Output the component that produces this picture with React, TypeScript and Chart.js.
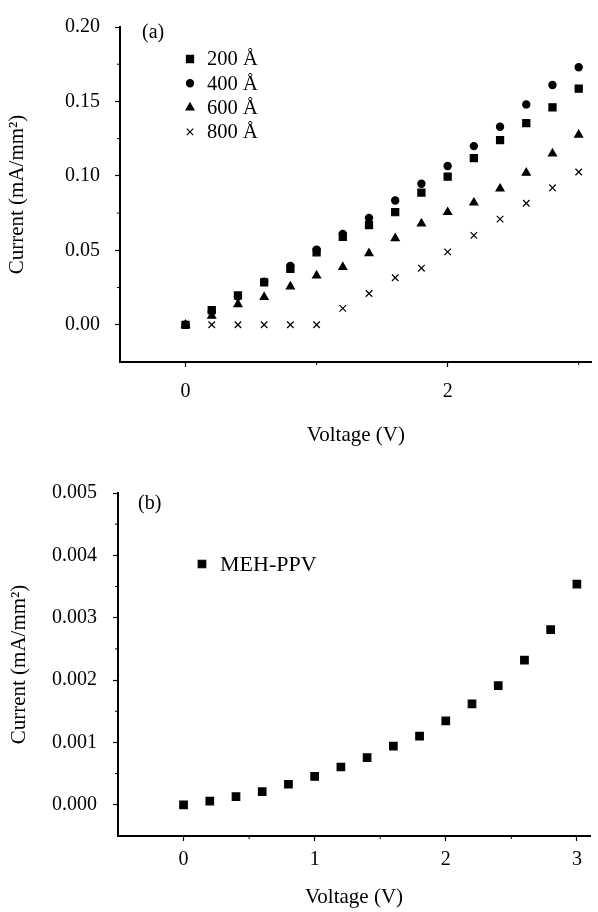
import React, { useEffect, useRef } from 'react';
import { Chart, registerables } from 'chart.js';
import { drawPoint } from 'chart.js/helpers';

Chart.register(...registerables);

const FONT = "'Liberation Serif', 'Times New Roman', serif";

// ---- data ----
const voltages = [0, 0.2, 0.4, 0.6, 0.8, 1.0, 1.2, 1.4, 1.6, 1.8, 2.0, 2.2, 2.4, 2.6, 2.8, 3.0];
const current200 = [0.0, 0.0099, 0.0197, 0.0285, 0.0375, 0.0487, 0.059, 0.067, 0.0756, 0.0888, 0.0995, 0.112, 0.124, 0.1355, 0.146, 0.1586];
const current400 = [0.0, 0.009, 0.019, 0.029, 0.0395, 0.0505, 0.061, 0.0717, 0.0835, 0.0947, 0.1066, 0.12, 0.133, 0.148, 0.161, 0.173];
const current600 = [0.0, 0.006, 0.0138, 0.0186, 0.0257, 0.033, 0.0387, 0.048, 0.058, 0.068, 0.0756, 0.082, 0.0914, 0.102, 0.115, 0.1276];
const current800 = [0.0, 0.0, 0.0, 0.0, 0.0, 0.0, 0.011, 0.021, 0.0316, 0.038, 0.049, 0.06, 0.071, 0.0816, 0.092, 0.1026];
const currentMehPpv = [0.0, 0.00006, 0.00013, 0.00021, 0.00033, 0.000455, 0.000606, 0.000756, 0.00094, 0.0011, 0.001345, 0.00162, 0.00191, 0.00232, 0.00281, 0.00354];

const seriesLabelsA = ['200 Å', '400 Å', '600 Å', '800 Å'];
const seriesLabelB = 'MEH-PPV';

// ---- ticks ----
const xTicksA = [0, 2];
const xMinorA = [1, 3];
const yTicksA = [0, 0.05, 0.1, 0.15, 0.2];
const yMinorA = [0.025, 0.075, 0.125, 0.175];
const xTicksB = [0, 1, 2, 3];
const xMinorB = [0.5, 1.5, 2.5];
const yTicksB = [0, 0.001, 0.002, 0.003, 0.004, 0.005];
const yMinorB = [0.0005, 0.0015, 0.0025, 0.0035, 0.0045];

const xLabel = 'Voltage (V)';
const yLabel = 'Current (mA/mm²)';

const toPoints = (ys: number[]) => voltages.map((v, i) => ({ x: v, y: ys[i] }));

const annotPlugin = {
  id: 'annot',
  afterDraw(chart: any, _args: any, opts: any) {
    const ctx = chart.ctx as CanvasRenderingContext2D;
    const { left, bottom } = chart.chartArea;
    const xs = chart.scales.x;
    const ys = chart.scales.y;
    ctx.save();
    ctx.strokeStyle = '#000';
    ctx.lineWidth = 1;
    (opts.minorX || []).forEach((v: number) => {
      const px = xs.getPixelForValue(v);
      ctx.beginPath();
      ctx.moveTo(px, bottom);
      ctx.lineTo(px, bottom + opts.minorLen);
      ctx.stroke();
    });
    (opts.minorY || []).forEach((v: number) => {
      const py = ys.getPixelForValue(v);
      ctx.beginPath();
      ctx.moveTo(left - opts.minorLen, py);
      ctx.lineTo(left, py);
      ctx.stroke();
    });
    ctx.fillStyle = '#000';
    ctx.font = `20px ${FONT}`;
    ctx.textBaseline = 'middle';
    ctx.textAlign = 'left';
    if (opts.panel) ctx.fillText(opts.panel.text, opts.panel.x, opts.panel.y);
    const lg = opts.legend;
    if (lg) {
      ctx.font = `${lg.fontSize}px ${FONT}`;
      chart.data.datasets.forEach((ds: any, i: number) => {
        const y = lg.y + i * lg.gap;
        ctx.fillStyle = '#000';
        ctx.strokeStyle = '#000';
        ctx.lineWidth = ds.pointBorderWidth;
        drawPoint(ctx, { pointStyle: ds.pointStyle, radius: ds.pointRadius, rotation: 0, borderWidth: ds.pointBorderWidth }, lg.x, y);
        ctx.fillStyle = '#000';
        ctx.fillText(ds.label, lg.textX, y + 1);
      });
    }
    ctx.restore();
  },
};

function makeScale(opts: any) {
  return {
    type: 'linear',
    min: opts.min,
    max: opts.max,
    afterBuildTicks: (scale: any) => {
      scale.ticks = opts.ticks.map((v: number) => ({ value: v }));
    },
    afterFit: (scale: any) => {
      if (opts.width !== undefined) scale.width = opts.width;
      if (opts.height !== undefined) scale.height = opts.height;
    },
    border: { display: true, color: '#000', width: 2 },
    grid: { display: true, drawOnChartArea: false, drawTicks: true, tickLength: 5, tickColor: '#000', tickWidth: 1.2, color: '#000' },
    ticks: {
      color: '#000',
      font: { family: FONT, size: 20 },
      padding: opts.tickPad,
      maxRotation: 0,
      autoSkip: false,
      callback: (v: any) => Number(v).toFixed(opts.decimals),
    },
    title: {
      display: true,
      text: opts.title,
      color: '#000',
      font: { family: FONT, size: 21 },
      padding: opts.titlePad,
    },
  };
}

function buildA(): any {
  const styles = [
    { pointStyle: 'rect', pointRadius: 5 },
    { pointStyle: 'circle', pointRadius: 3.6 },
    { pointStyle: 'triangle', pointRadius: 4.6 },
    { pointStyle: 'crossRot', pointRadius: 4.6 },
  ];
  const series = [current200, current400, current600, current800];
  return {
    type: 'scatter',
    data: {
      datasets: series.map((s, i) => ({
        label: seriesLabelsA[i],
        data: toPoints(s),
        showLine: false,
        pointStyle: styles[i].pointStyle,
        pointRadius: styles[i].pointRadius,
        pointBackgroundColor: '#000',
        pointBorderColor: '#000',
        pointBorderWidth: 1.2,
      })),
    },
    options: {
      responsive: false,
      animation: false,
      devicePixelRatio: 1,
      layout: { padding: { top: 23, right: 2, left: 0, bottom: 0 } },
      plugins: {
        legend: { display: false },
        tooltip: { enabled: false },
        annot: {
          minorX: xMinorA,
          minorY: yMinorA,
          minorLen: 3,
          panel: { text: '(a)', x: 142, y: 33 },
          legend: { x: 190, textX: 207, y: 59, gap: 24.3, fontSize: 20.5 },
        },
      },
      scales: {
        x: makeScale({ min: -0.5, max: 3.1, ticks: xTicksA, height: 94, tickPad: 13, decimals: 0, title: xLabel, titlePad: { top: 4, bottom: 8 } }),
        y: makeScale({ min: -0.025, max: 0.2, ticks: yTicksA, width: 120, tickPad: 15, decimals: 2, title: yLabel, titlePad: { top: 5, bottom: 4 } }),
      },
    },
    plugins: [annotPlugin],
  };
}

function buildB(): any {
  return {
    type: 'scatter',
    data: {
      datasets: [
        {
          label: seriesLabelB,
          data: toPoints(currentMehPpv),
          showLine: false,
          pointStyle: 'rect',
          pointRadius: 5.3,
          pointBackgroundColor: '#000',
          pointBorderColor: '#000',
          pointBorderWidth: 1.2,
        },
      ],
    },
    options: {
      responsive: false,
      animation: false,
      devicePixelRatio: 1,
      layout: { padding: { top: 37, right: 8, left: 0, bottom: 0 } },
      plugins: {
        legend: { display: false },
        tooltip: { enabled: false },
        annot: {
          minorX: xMinorB,
          minorY: yMinorB,
          minorLen: 3,
          panel: { text: '(b)', x: 138, y: 48 },
          legend: { x: 202, textX: 220, y: 108, gap: 24, fontSize: 22 },
        },
      },
      scales: {
        x: makeScale({ min: -0.5, max: 3.1, ticks: xTicksB, height: 76, tickPad: 7, decimals: 0, title: xLabel, titlePad: { top: 4, bottom: 2 } }),
        y: makeScale({ min: -0.0005, max: 0.005, ticks: yTicksB, width: 118, tickPad: 16, decimals: 3, title: yLabel, titlePad: { top: 7, bottom: 4 } }),
      },
    },
    plugins: [annotPlugin],
  };
}

function ChartCanvas({ build, height }: { build: () => any; height: number }) {
  const ref = useRef<HTMLCanvasElement | null>(null);
  useEffect(() => {
    if (!ref.current) return;
    const chart = new Chart(ref.current, build());
    return () => chart.destroy();
  }, [build]);
  return <canvas ref={ref} width={598} height={height} style={{ display: 'block', width: 598, height }} />;
}

export default function App() {
  return (
    <div style={{ position: 'absolute', left: 0, top: 0, width: 598, height: 912, background: '#fff' }}>
      <ChartCanvas build={buildA} height={456} />
      <ChartCanvas build={buildB} height={456} />
    </div>
  );
}
